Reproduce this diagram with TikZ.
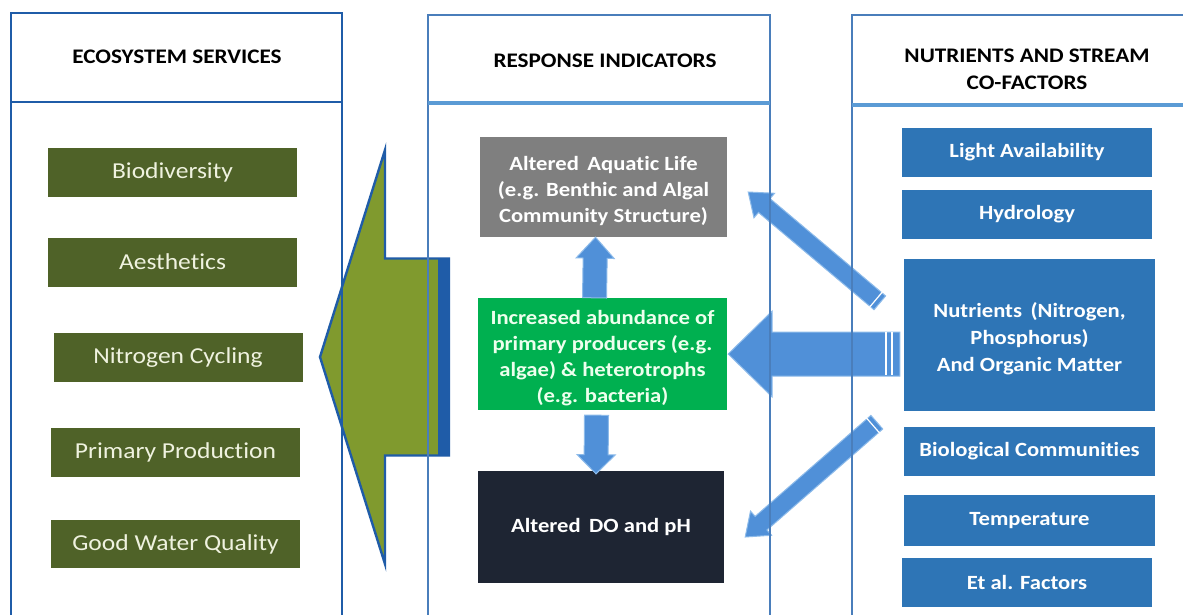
\documentclass[tikz,border=0pt]{standalone}
\usepackage{fontspec}
\setmainfont{Carlito}[FakeStretch=1.12, Ligatures=NoCommon]
\usetikzlibrary{calc}
\definecolor{olv}{HTML}{4F6228}
\definecolor{olvtxt}{HTML}{EFF2DF}
\definecolor{garrow}{HTML}{809A2E}
\definecolor{frameA}{HTML}{1F5CA8}
\definecolor{frameB}{HTML}{4A7EBB}
\definecolor{divB}{HTML}{5B9BD5}
\definecolor{gbox}{HTML}{7F7F7F}
\definecolor{grn}{HTML}{00B050}
\definecolor{dk}{HTML}{1E2533}
\definecolor{bbox}{HTML}{2E75B6}
\definecolor{barr}{HTML}{5090D8}
\definecolor{barrl}{HTML}{8DBBEA}
\newcommand\blockarr[6][]{%
  \path ($(#3)!#6!(#2)$) coordinate (ba-hb);
  \draw[#1] ($(#2)!#4!90:(#3)$) -- ($(ba-hb)!#4!90:(#3)$) -- ($(ba-hb)!#5!90:(#3)$) -- (#3)
    -- ($(ba-hb)!#5!-90:(#3)$) -- ($(ba-hb)!#4!-90:(#3)$) -- ($(#2)!#4!-90:(#3)$) -- cycle;}
\newcommand\tailstripe[4][white]{%
  \path ($(#2)!#4!(#3)$) coordinate (ts-c);
  \draw[#1, line width=1.2pt] ($(ts-c)!10pt!90:(#3)$) -- ($(ts-c)!10pt!-90:(#3)$);}
\begin{document}
\begin{tikzpicture}[x=1pt,y=-1pt,
  every node/.style={inner sep=0pt, align=center},
  hdr/.style={font=\fontsize{20.7}{27}\selectfont\bfseries, text=black},
  olvbox/.style={fill=olv, text=olvtxt, minimum width=249pt, minimum height=49pt, font=\fontsize{22.8}{26}\selectfont},
  midbox/.style={text=white, font=\fontsize{20.2}{26}\selectfont\bfseries},
  bluebox/.style={fill=bbox, text=white, minimum width=250pt, minimum height=49pt, font=\fontsize{20.2}{27}\selectfont\bfseries},
  bluetext/.style={text=white, font=\fontsize{20.2}{27}\selectfont\bfseries},
  bluearrow/.style={fill=barr, draw=barrl, line width=1pt},
  framea/.style={draw=frameA, line width=2.6pt},
  frameb/.style={draw=frameB, line width=2.8pt},
  divline/.style={draw=divB, line width=3.5pt},
]
\useasboundingbox (0,0) rectangle (1183,614);
\clip (0,0) rectangle (1183,614);
\fill[white] (0,0) rectangle (1183,614);

% left column boxes
\node[olvbox] (bio) at (172.5,172) {Biodiversity};
\node[olvbox] (aes) at (172.5,262) {Aesthetics};
\node[olvbox] (nit) at (178,357.5) {Nitrogen Cycling};
\node[olvbox] (pri) at (175.5,452.5) {Primary Production};
\node[olvbox, minimum height=48pt] (gwq) at (175.5,544) {Good Water Quality};

% middle column boxes
\node[fill=gbox, minimum width=247pt, minimum height=100pt] (aq) at (603.5,187) {};
\node[midbox] (aq-txt) at ([yshift=-4pt]aq.center)
  {Altered\, Aquatic Life\\(e.g. Benthic and Algal\\Community Structure)};
\node[fill=grn, minimum width=249pt, minimum height=112pt] (inc) at (602.5,354) {};
\node[midbox, text=white!93!green] (inc-txt) at ([yshift=-4pt]inc.center)
  {Increased abundance of\\primary producers (e.g.\\algae) \& heterotrophs\\(e.g. bacteria)};
\node[midbox, fill=dk, minimum width=246pt, minimum height=112pt] (do) at (601,527)
  {Altered\, DO and pH};

% right column boxes
\node[bluebox] (lig) at (1027,152) {Light Availability};
\node[bluebox] (hyd) at (1027,214.5) {Hydrology};
\node[fill=bbox, minimum width=251pt, minimum height=152pt] (nut) at (1029.5,335) {};
\node[bluetext] (nut-txt) at ([yshift=-4pt]nut.center)
  {Nutrients\, (Nitrogen,\\Phosphorus)\\And Organic Matter};
\node[bluebox, minimum width=251pt] (bcm) at (1029.5,451.5) {Biological Communities};
\node[bluebox, minimum width=251pt, minimum height=51pt] (tmp) at (1029.5,520.5) {Temperature};
\node[bluebox] (eta) at (1027,582.5) {Et al. Factors};

% big green arrow (response indicators -> ecosystem services)
\coordinate (ga-t) at (449,357);
\coordinate (ga-h) at (320,357);
\blockarr[fill=garrow, draw=frameA, line width=2.4pt, line join=miter]{ga-t}{ga-h}{98.5pt}{207pt}{65pt}
\fill[frameA] (438,258.5) rectangle (449,455.5);

% vertical arrows in the middle column
\coordinate (ua-t) at ([xshift=-8pt]inc.north);
\coordinate (ua-h) at ([xshift=-8pt]aq.south);
\blockarr[bluearrow]{ua-t}{ua-h}{12pt}{19pt}{21pt}
\coordinate (da-t) at ([xshift=-6pt,yshift=-5pt]inc.south);
\coordinate (da-h) at ([xshift=-5pt,yshift=-3pt]do.north);
\blockarr[bluearrow]{da-t}{da-h}{12pt}{19pt}{19pt}

% arrows from nutrients
\coordinate (ha-t) at ([xshift=-4pt]nut.west |- inc.east);
\coordinate (ha-h) at ([xshift=1pt]inc.east);
\blockarr[bluearrow]{ha-t}{ha-h}{22pt}{43pt}{44pt}
\draw[white, line width=1.2pt] (886,331.5) -- (886,374.5);
\draw[white, line width=1.2pt] (892,331.5) -- (892,374.5);

\coordinate (d1-t) at ([xshift=-24pt,yshift=-44pt]nut.north west);
\coordinate (d1-h) at ([xshift=21pt,yshift=-5pt]aq.east);
\blockarr[bluearrow]{d1-t}{d1-h}{9pt}{16pt}{21pt}
\tailstripe{d1-t}{d1-h}{5pt}

\coordinate (d2-t) at ([xshift=-27pt,yshift=-11pt]nut.south west);
\coordinate (d2-h) at ([xshift=21pt,yshift=-10pt]do.east);
\blockarr[bluearrow]{d2-t}{d2-h}{9pt}{16pt}{21pt}
\tailstripe{d2-t}{d2-h}{5pt}

% column frames (drawn over the arrows)
\draw[framea] (11,640) -- (11,13) -- (342,13) -- (342,640);
\draw[framea] (11,102) -- (342,102);
\draw[frameb] (428,640) -- (428,15) -- (770,15) -- (770,640);
\draw[divline] (428,103) -- (770,103);
\draw[frameb] (852,640) -- (852,15) -- (1200,15);
\draw[divline] (852,105) -- (1200,105);

% headers
\node[hdr] (h1) at (177,57) {ECOSYSTEM SERVICES};
\node[hdr] (h2) at (605,61) {RESPONSE INDICATORS};
\node[hdr] (h3) at (1027,69) {NUTRIENTS AND STREAM\\CO-FACTORS};
\end{tikzpicture}
\end{document}
